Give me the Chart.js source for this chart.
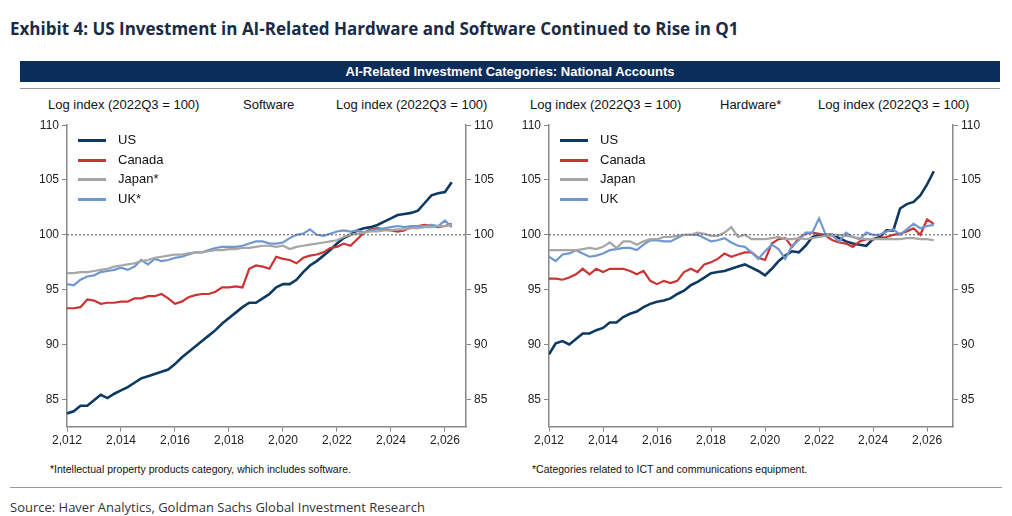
<!DOCTYPE html>
<html><head><meta charset="utf-8">
<script src="https://cdn.jsdelivr.net/npm/chart.js@4/dist/chart.umd.min.js"></script>
<style>
body{margin:0;width:1012px;height:516px;background:#fff;font-family:Arial,"Liberation Sans",sans-serif;position:relative;overflow:hidden}
.abs{position:absolute;white-space:nowrap}
.t{font-size:13px;color:#111}
.leg{font-size:13px;color:#111}
.leg span{display:inline-block;width:28px;height:3px;vertical-align:middle;margin-right:12px}
</style></head><body>
<div class="abs" style="left:10px;top:17px;font-size:17px;font-weight:bold;color:#1a2b45;font-family:'Open Sans',sans-serif">Exhibit 4: US Investment in AI-Related Hardware and Software Continued to Rise in Q1</div>
<div class="abs" style="left:20px;top:61px;width:980px;height:21px;background:#0b2d5b;color:#fff;font-size:13px;font-weight:bold;text-align:center;line-height:21px">AI-Related Investment Categories: National Accounts</div>
<div class="abs" style="left:20px;top:88px;width:980px;border-top:1px solid #999"></div>
<div class="abs t" style="left:48px;top:97px">Log index (2022Q3 = 100)</div>
<div class="abs t" style="left:243px;top:97px">Software</div>
<div class="abs t" style="left:336px;top:97px">Log index (2022Q3 = 100)</div>
<div class="abs t" style="left:530px;top:97px">Log index (2022Q3 = 100)</div>
<div class="abs t" style="left:720px;top:97px">Hardware*</div>
<div class="abs t" style="left:818px;top:97px">Log index (2022Q3 = 100)</div>
<canvas id="c1" class="abs" style="left:20px;top:115px"></canvas>
<canvas id="c2" class="abs" style="left:500px;top:115px"></canvas>
<div class="abs leg" style="left:78px;top:130px;line-height:19.5px">
<div><span style="background:#0e3a61"></span>US</div><div><span style="background:#cc3333"></span>Canada</div><div><span style="background:#a6a6a6"></span>Japan*</div><div><span style="background:#7197cf"></span>UK*</div></div>
<div class="abs leg" style="left:560px;top:130px;line-height:19.5px">
<div><span style="background:#0e3a61"></span>US</div><div><span style="background:#cc3333"></span>Canada</div><div><span style="background:#a6a6a6"></span>Japan</div><div><span style="background:#7197cf"></span>UK</div></div>
<div class="abs" style="left:50px;top:463px;font-size:10.5px;color:#111">*Intellectual property products category, which includes software.</div>
<div class="abs" style="left:532px;top:463px;font-size:10.5px;color:#111">*Categories related to ICT and communications equipment.</div>
<div class="abs" style="left:10px;top:487px;width:992px;border-top:1px solid #999"></div>
<div class="abs" style="left:10px;top:498px;font-size:13px;color:#333;font-family:'Open Sans',sans-serif">Source: Haver Analytics, Goldman Sachs Global Investment Research</div>
<script>
const startYear = 2012;
const swUS=[83.7,83.9,84.4,84.4,84.9,85.4,85.1,85.5,85.8,86.1,86.5,86.9,87.1,87.3,87.5,87.7,88.2,88.8,89.3,89.8,90.3,90.8,91.3,91.9,92.4,92.9,93.4,93.8,93.8,94.2,94.6,95.2,95.5,95.5,95.9,96.6,97.2,97.6,98.1,98.6,99.2,99.7,100.0,100.4,100.6,100.7,100.9,101.2,101.5,101.8,101.9,102.0,102.2,102.9,103.6,103.8,103.9,104.8];
const swCA=[93.3,93.3,93.4,94.1,94.0,93.7,93.8,93.8,93.9,93.9,94.2,94.2,94.4,94.4,94.6,94.2,93.7,93.9,94.3,94.5,94.6,94.6,94.8,95.2,95.2,95.3,95.2,96.9,97.2,97.1,96.9,98.0,97.8,97.7,97.4,97.9,98.1,98.2,98.4,98.8,98.9,99.2,99.0,99.6,100.2,100.5,100.6,100.5,100.4,100.3,100.4,100.7,100.8,100.9,100.8,100.7,100.8,101.0];
const swJP=[96.5,96.5,96.6,96.6,96.7,96.8,96.9,97.1,97.2,97.3,97.4,97.6,97.7,97.9,98.0,98.1,98.2,98.2,98.3,98.4,98.4,98.5,98.6,98.6,98.7,98.7,98.8,98.8,98.9,99.0,99.0,98.9,99.0,98.7,98.9,99.0,99.1,99.2,99.3,99.4,99.5,99.8,100.0,100.1,100.2,100.3,100.3,100.4,100.4,100.5,100.5,100.6,100.6,100.7,100.7,100.8,100.8,100.9];
const swUK=[95.5,95.4,95.9,96.2,96.3,96.6,96.7,96.8,97.0,96.8,97.1,97.7,97.3,97.8,97.6,97.7,97.9,98.0,98.2,98.4,98.4,98.6,98.8,98.9,98.9,98.9,99.0,99.2,99.4,99.4,99.2,99.2,99.3,99.7,100.0,100.1,100.5,100.0,99.9,100.1,100.3,100.4,100.3,100.4,100.2,100.4,100.5,100.6,100.7,100.8,100.7,100.8,100.8,100.8,100.9,100.8,101.3,100.7];
const hwUS=[89.1,90.1,90.3,90.0,90.5,91.0,91.0,91.3,91.5,92.0,92.0,92.5,92.8,93.0,93.4,93.7,93.9,94.0,94.2,94.6,94.9,95.4,95.7,96.1,96.5,96.6,96.7,96.9,97.1,97.3,97.0,96.7,96.3,96.9,97.6,98.1,98.5,98.4,99.0,99.8,100.0,100.0,100.0,99.7,99.4,99.2,99.1,99.0,99.6,99.8,100.4,100.4,102.4,102.8,103.0,103.6,104.6,105.8];
const hwCA=[96.0,96.0,95.9,96.1,96.4,96.9,96.4,96.9,96.6,96.9,96.9,96.9,96.7,96.4,96.7,95.8,95.5,95.8,95.6,95.8,96.6,96.9,96.6,97.3,97.5,97.8,98.3,98.0,98.2,98.4,98.4,97.9,97.7,99.2,99.6,99.7,98.9,99.7,100.1,100.2,100.1,99.9,99.5,99.3,99.2,98.9,99.4,99.6,99.6,99.7,99.8,100.0,100.1,100.3,100.6,100.0,101.4,101.0];
const hwJP=[98.6,98.6,98.6,98.6,98.6,98.7,98.8,98.7,98.9,99.3,98.8,99.4,99.4,99.1,99.4,99.6,99.6,99.8,99.8,99.9,100.0,100.0,100.2,100.1,99.9,99.9,100.2,100.7,99.8,100.0,99.6,99.6,99.6,99.7,99.8,99.6,99.6,99.7,99.6,99.7,99.8,99.9,100.0,100.0,99.9,99.8,99.7,99.6,99.6,99.6,99.6,99.6,99.6,99.7,99.7,99.6,99.6,99.5];
const hwUK=[98.0,97.6,98.2,98.3,98.6,98.3,98.0,98.1,98.3,98.6,98.7,98.8,98.8,98.6,99.1,99.5,99.5,99.4,99.4,99.7,100.0,100.0,100.0,99.7,99.4,99.5,99.7,99.3,99.0,98.9,98.4,97.8,98.5,99.1,98.7,97.8,99.0,99.5,100.2,100.2,101.5,100.0,99.9,99.4,100.2,99.8,99.6,100.2,100.0,100.0,100.3,100.5,100.0,100.5,101.0,100.6,100.8,100.9];
const yTicks=[85,90,95,100,105,110];

const pts=a=>a.map((v,i)=>({x:startYear+i/4,y:v}));
function make(id,w,h,data,xmax,lw,rw){
  const cv=document.getElementById(id); cv.width=w; cv.height=h; cv.style.width=w+'px'; cv.style.height=h+'px';
  const cols=['#0e3a61','#cc3333','#a6a6a6','#7197cf'];
  const ds=[{data:[{x:startYear,y:100},{x:xmax,y:100}],borderColor:'#555',borderWidth:1,borderDash:[2,2],pointRadius:0,yAxisID:'y'}];
  // draw order: Japan, UK, Canada, US on top
  [2,3,1,0].forEach(k=>ds.push({data:pts(data[k]),borderColor:cols[k],borderWidth:k==0?2.6:2.2,pointRadius:0,tension:0,yAxisID:'y'}));
  const yax=(pos,wd)=>({type:'linear',position:pos,min:82.5,max:110,
    afterBuildTicks:a=>{a.ticks=yTicks.map(v=>({value:v}))},
    afterFit:a=>{a.width=wd},
    grid:{display:true,drawOnChartArea:false,drawTicks:true,tickLength:5,color:'#888'},
    border:{color:'#888',width:1.5},
    ticks:{color:'#222',font:{size:12,family:'Arial'},padding:3}});
  new Chart(cv,{type:'line',data:{datasets:ds},options:{
    animation:false,responsive:false,maintainAspectRatio:false,
    layout:{padding:{top:8,left:0,right:0,bottom:0}},
    plugins:{legend:{display:false},tooltip:{enabled:false}},
    scales:{
      x:{type:'linear',min:startYear,max:xmax,
        afterBuildTicks:a=>{a.ticks=[2012,2014,2016,2018,2020,2022,2024,2026].map(v=>({value:v}))},
        grid:{display:true,drawOnChartArea:false,tickLength:5,color:'#888'},
        border:{color:'#888',width:1.5},
        ticks:{color:'#222',font:{size:12,family:'Arial'},maxRotation:0,padding:2}},
      y:yax('left',lw), y2:yax('right',rw)
    }}});
}
make('c1',480,335,[swUS,swCA,swJP,swUK],2026.78,47,34);
make('c2',490,335,[hwUS,hwCA,hwJP,hwUK],2026.96,49,37);
</script>
</body></html>
